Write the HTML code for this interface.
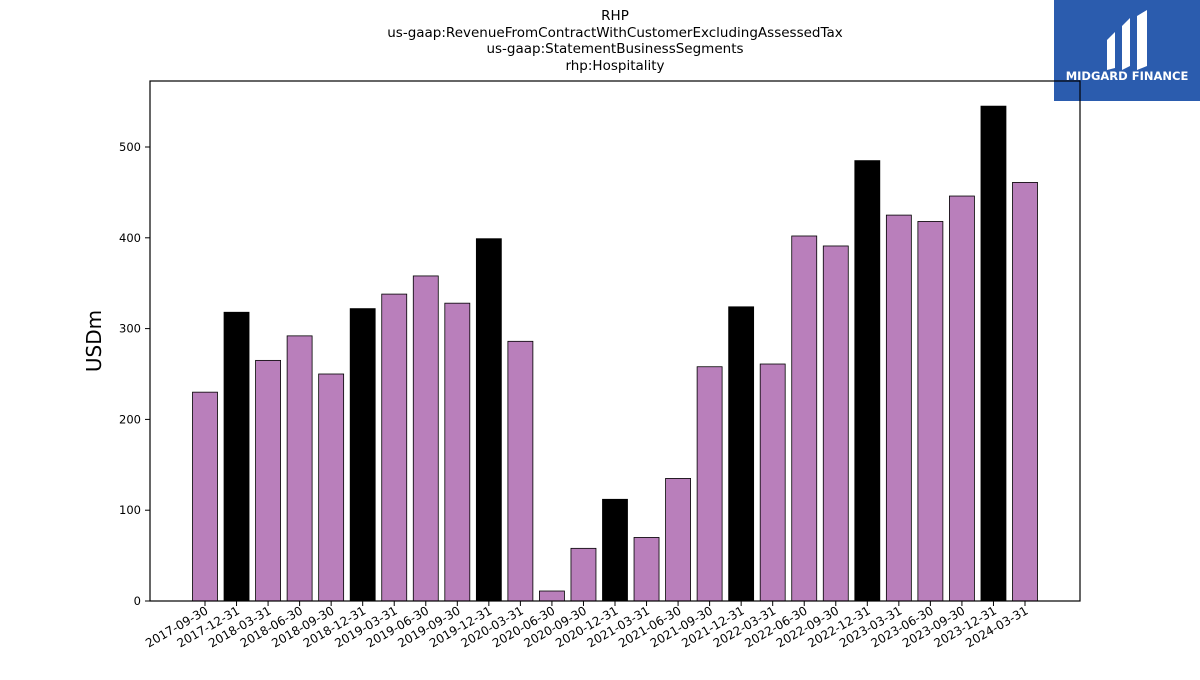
<!DOCTYPE html>
<html><head><meta charset="utf-8"><style>
body{margin:0;background:#fff;font-family:"Liberation Sans","DejaVu Sans",sans-serif;}
svg text{font-family:"DejaVu Sans","Liberation Sans",sans-serif;}
</style></head><body>
<svg id="c" width="1200" height="675">
<g font-size="13.5" text-anchor="middle" fill="#000">
<text x="615" y="20">RHP</text>
<text x="615" y="37">us-gaap:RevenueFromContractWithCustomerExcludingAssessedTax</text>
<text x="615" y="53">us-gaap:StatementBusinessSegments</text>
<text x="615" y="70">rhp:Hospitality</text>
</g>
<g>
<rect x="1054" y="0" width="146" height="101" fill="#2b5cae"/>
<path d="M1107 40 L1115 32 L1115 68 L1107 70 Z M1122 26 L1130 18 L1130 66 L1122 70 Z M1137 16 L1147 10 L1147 66 L1137 70 Z" fill="#fff"/>
<text x="1127" y="80" font-size="11.5" font-weight="bold" fill="#fff" text-anchor="middle">MIDGARD FINANCE</text>
</g>
<g id="plot"></g>
<text transform="translate(101,341) rotate(-90)" font-size="20" text-anchor="middle">USDm</text>
</svg>
<script>
const categories=["2017-09-30","2017-12-31","2018-03-31","2018-06-30","2018-09-30","2018-12-31","2019-03-31","2019-06-30","2019-09-30","2019-12-31","2020-03-31","2020-06-30","2020-09-30","2020-12-31","2021-03-31","2021-06-30","2021-09-30","2021-12-31","2022-03-31","2022-06-30","2022-09-30","2022-12-31","2023-03-31","2023-06-30","2023-09-30","2023-12-31","2024-03-31"];
const values=[230,318,265,292,250,322,338,358,328,399,286,11,58,112,70,135,258,324,261,402,391,485,425,418,446,545,461];
const yTicks=[0,100,200,300,400,500];
const ns="http://www.w3.org/2000/svg";
const g=document.getElementById('plot');
const L=150,R=1080,T=81,B=601;
const y=v=>B-v*(B-147)/500;
const step=(1025-205)/(categories.length-1);
const x=i=>205+i*step;
function mk(t,a){const e=document.createElementNS(ns,t);for(const k in a)e.setAttribute(k,a[k]);g.appendChild(e);return e;}
categories.forEach((c,i)=>{
 const b=mk('rect',{x:x(i)-12.5,y:y(values[i]),width:25,height:B-y(values[i]),fill:c.endsWith('12-31')?'#000':'#b97fbb',stroke:'#000','stroke-width':0.8});
 
 
 const tk=mk('line',{x1:x(i),x2:x(i),y1:B,y2:B+5,stroke:'#000'});
 
 
 const t=mk('text',{x:x(i)+4,y:B+12,'font-size':12,'text-anchor':'end',transform:`rotate(-30 ${x(i)+4} ${B+12})`});
 t.textContent=c;
 
 
});
yTicks.forEach(v=>{
 const tk=mk('line',{x1:L-5,x2:L,y1:y(v),y2:y(v),stroke:'#000'});
 
 
 const t=mk('text',{x:L-9,y:y(v)+4,'font-size':11.5,'text-anchor':'end'});
 t.textContent=v;
 
 
});
const f=mk('rect',{x:L,y:T,width:R-L,height:B-T,fill:'none',stroke:'#000','stroke-width':1.2});


</script>
</body></html>
